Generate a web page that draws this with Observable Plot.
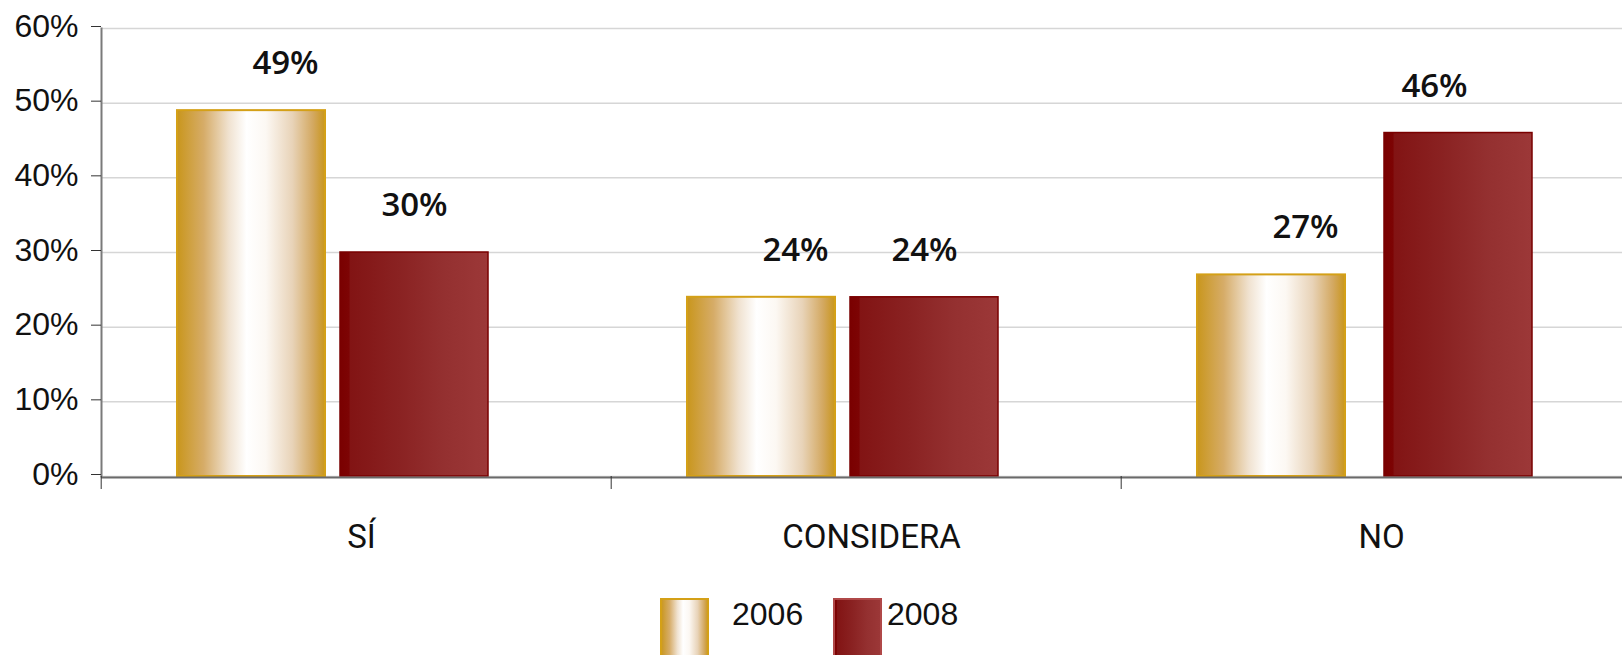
<!DOCTYPE html>
<html><head><meta charset="utf-8">
<script src="https://cdn.jsdelivr.net/npm/d3@7"></script>
<script src="https://cdn.jsdelivr.net/npm/@observablehq/plot@0.6"></script>
<style>
html,body{margin:0;padding:0;background:#fff;overflow:hidden}
#legend{position:relative;height:65px;font-family:"Liberation Sans",sans-serif;font-size:32px;color:#111}
.sw{position:absolute;top:8px;width:49px;height:60px}
.lt{position:absolute;top:8px;line-height:1}
</style></head><body>
<svg width="0" height="0" style="position:absolute">
<defs>
<linearGradient id="g2006" x1="0" x2="1" y1="0" y2="0">
 <stop offset="0" stop-color="#C9961C"/>
 <stop offset="0.18" stop-color="#D6AC68"/>
 <stop offset="0.35" stop-color="#F0E2D0"/>
 <stop offset="0.47" stop-color="#FFFFFF"/>
 <stop offset="0.6" stop-color="#FCF8F3"/>
 <stop offset="0.78" stop-color="#E8D3B8"/>
 <stop offset="0.92" stop-color="#D3A860"/>
 <stop offset="1" stop-color="#C9961C"/>
</linearGradient>
<linearGradient id="g2008" x1="0" x2="1" y1="0" y2="0">
 <stop offset="0" stop-color="#7A0000"/>
 <stop offset="0.06" stop-color="#7D0404"/>
 <stop offset="0.07" stop-color="#821414"/>
 <stop offset="0.4" stop-color="#8A2222"/>
 <stop offset="0.7" stop-color="#943030"/>
 <stop offset="1" stop-color="#9C3838"/>
</linearGradient>
</defs></svg>
<div id="chart"></div>
<div id="legend"></div>
<script>
const categories = ["SÍ", "CONSIDERA", "NO"];
const years = ["2006", "2008"];
const values2006 = [49, 24, 27];
const values2008 = [30, 24, 46];
const yTicks = [0, 10, 20, 30, 40, 50, 60];

const data = categories.flatMap((c, i) => [
  {cat: c, year: years[0], value: values2006[i]},
  {cat: c, year: years[1], value: values2008[i]}
]);
const d2006 = data.filter(d => d.year === "2006");
const d2008 = data.filter(d => d.year === "2008");
const d2008main = d2008.filter(d => d.cat !== "NO");
const d2008no = d2008.filter(d => d.cat === "NO");

const barOpts = {fx: "cat", x: "year", y: "value"};
const labelOpts = {fx: "cat", x: "year", y: "value", text: d => d.value + "%",
  dy: -47, fontSize: 33, fontWeight: 600, fontFamily: "Open Sans", fill: "#111"};

const chart = Plot.plot({
  width: 1622,
  height: 590,
  marginLeft: 100,
  marginRight: -10,
  marginTop: 28,
  marginBottom: 114,
  style: {fontFamily: "Liberation Sans", fontSize: "32px", background: "white", color: "#111"},
  fx: {domain: categories, padding: 0, label: null},
  x: {domain: years, paddingInner: 0.095, paddingOuter: 0.6085, align: 0.379, axis: null},
  y: {domain: [0, 60]},
  marks: [
    Plot.gridY(yTicks, {stroke: "#d6d6d6", strokeOpacity: 1, strokeWidth: 1.5}),
    Plot.barY(d2006, {...barOpts, fill: "url(#g2006)", stroke: "#D4A017", strokeWidth: 2}),
    Plot.barY(d2008main, {...barOpts, fill: "url(#g2008)", stroke: "#7A0000", strokeWidth: 1.5}),
    Plot.barY(d2008no, {...barOpts, dx: 24, fill: "url(#g2008)", stroke: "#7A0000", strokeWidth: 1.5}),
    Plot.ruleY([0], {stroke: "#6a6a6a", strokeWidth: 2, dy: 1}),
    Plot.frame({anchor: "left", facetAnchor: "left", stroke: "#7a7a7a", strokeWidth: 2}),
    Plot.text(d2006, {...labelOpts, dx: 34}),
    Plot.text(d2008, {...labelOpts, dx: 0}),
    Plot.axisY({ticks: yTicks, tickSize: 10, tickPadding: 13, tickFormat: d => d + "%",
      fontSize: 32, dy: -2, stroke: "#333", label: null}),
    Plot.axisFx({anchor: "bottom", tickSize: 13, dx: -255.3, tickFormat: () => "", stroke: "#333", label: null}),
    Plot.axisFx({anchor: "bottom", tickSize: 0, tickPadding: 48, dx: 5, fontSize: 33, fontFamily: "Roboto", label: null})
  ]
});
document.getElementById("chart").appendChild(chart);

const legend = document.getElementById("legend");
const items = [
  {year: years[0], grad: "url(#g2006)", stroke: "#D4A017", sx: 660, tx: 732},
  {year: years[1], grad: "url(#g2008)", stroke: "#B04848", sx: 833, tx: 887}
];
for (const it of items) {
  const sw = document.createElementNS("http://www.w3.org/2000/svg", "svg");
  sw.setAttribute("class", "sw");
  sw.style.left = it.sx + "px";
  sw.setAttribute("width", 49);
  sw.setAttribute("height", 60);
  sw.innerHTML = `<rect x="1" y="1" width="47" height="60" fill="${it.grad}" stroke="${it.stroke}" stroke-width="2"/>`;
  legend.appendChild(sw);
  const t = document.createElement("div");
  t.className = "lt";
  t.style.left = it.tx + "px";
  t.textContent = it.year;
  legend.appendChild(t);
}
</script>
</body></html>
